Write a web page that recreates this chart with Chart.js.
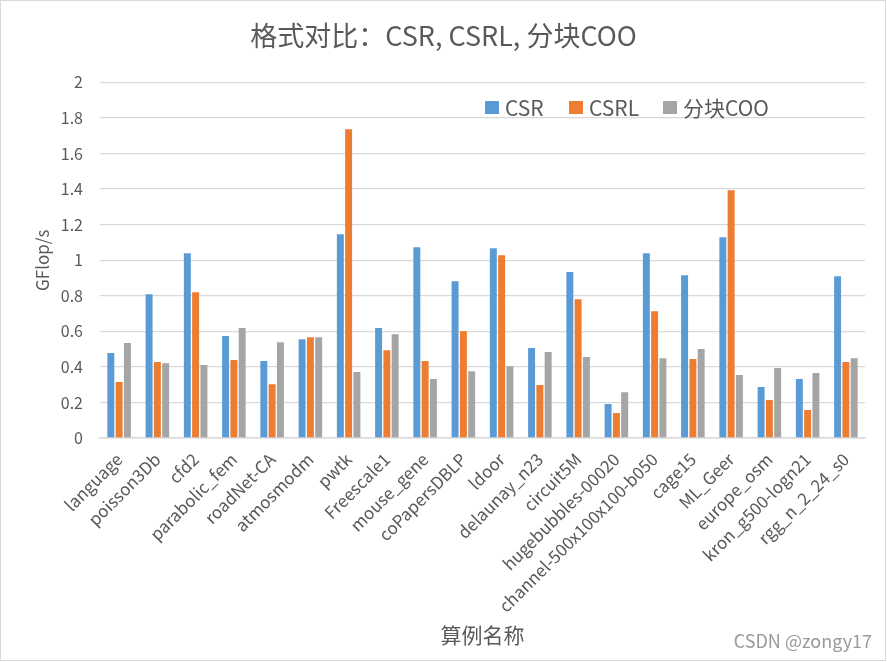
<!DOCTYPE html>
<html>
<head>
<meta charset="utf-8">
<script src="https://cdn.jsdelivr.net/npm/chart.js@4/dist/chart.umd.min.js"></script>
<style>
  body { margin: 0; background: #fff; }
  #wrap { position: relative; width: 887px; height: 662px; }
  #frame { position: absolute; left: 0; top: 0; width: 884px; height: 659px; border: 1px solid #d9d9d9; pointer-events: none; }
  #mark { position: absolute; right: 15px; top: 627px; font: 18px "Noto Sans CJK SC", sans-serif; color: #9a9a9a; }
</style>
</head>
<body>
<div id="wrap">
  <canvas id="myChart" width="887" height="662"></canvas>
  <div id="frame"></div>
  <div id="mark">CSDN @zongy17</div>
</div>
<script>
var categories = ['language', 'poisson3Db', 'cfd2', 'parabolic_fem', 'roadNet-CA', 'atmosmodm', 'pwtk', 'Freescale1', 'mouse_gene', 'coPapersDBLP', 'ldoor', 'delaunay_n23', 'circuit5M', 'hugebubbles-00020', 'channel-500x100x100-b050', 'cage15', 'ML_Geer', 'europe_osm', 'kron_g500-logn21', 'rgg_n_2_24_s0'];
var csr  = [0.478, 0.809, 1.039, 0.573, 0.433, 0.556, 1.146, 0.618, 1.073, 0.882, 1.067, 0.506, 0.933, 0.191, 1.039, 0.916, 1.129, 0.287, 0.332, 0.910];
var csrl = [0.315, 0.427, 0.820, 0.438, 0.303, 0.567, 1.736, 0.494, 0.433, 0.601, 1.028, 0.298, 0.781, 0.140, 0.713, 0.444, 1.393, 0.214, 0.157, 0.427];
var coo  = [0.534, 0.421, 0.410, 0.618, 0.539, 0.567, 0.371, 0.584, 0.332, 0.376, 0.404, 0.483, 0.455, 0.258, 0.449, 0.500, 0.354, 0.393, 0.365, 0.449];

var FONT = '"Noto Sans CJK SC", "Noto Sans", sans-serif';
var GREY = '#595959';

// legend drawn inside the plot area, like the Excel original
var insideLegend = {
  id: 'insideLegend',
  afterDraw: function(chart) {
    var c = chart.ctx;
    var xs = [485, 569, 663];
    c.save();
    c.font = '21px ' + FONT;
    c.textBaseline = 'middle';
    chart.data.datasets.forEach(function(ds, i) {
      c.fillStyle = ds.backgroundColor;
      c.fillRect(xs[i], 101, 14, 13);
      c.fillStyle = GREY;
      c.fillText(ds.label, xs[i] + 20, 108);
    });
    c.restore();
  }
};

var ctx = document.getElementById('myChart').getContext('2d');
var myChart = new Chart(ctx, {
    type: 'bar',
    data: {
        labels: categories,
        datasets: [
            { label: 'CSR', data: csr, backgroundColor: '#5b9bd5' },
            { label: 'CSRL', data: csrl, backgroundColor: '#ed7d31' },
            { label: '分块COO', data: coo, backgroundColor: '#a5a5a5' }
        ]
    },
    options: {
      responsive: false,
      animation: false,
      layout: { padding: { left: 22, right: 22, top: 0, bottom: 0 } },
      datasets: { bar: { categoryPercentage: 0.65, barPercentage: 0.84 } },
      plugins: {
        legend: { display: false },
        tooltip: { enabled: false },
        title: {
          display: true,
          text: '格式对比：CSR, CSRL, 分块COO',
          color: GREY,
          font: { family: FONT, size: 27, weight: 'normal' },
          padding: { top: 20, bottom: 30 }
        }
      },
      scales: {
        x: {
          grid: { display: false },
          border: { color: '#d9d9d9', width: 1.5 },
          ticks: { color: GREY, font: { family: FONT, size: 17 }, minRotation: 45, maxRotation: 45, padding: 3, autoSkip: false },
          title: { display: true, text: '算例名称', color: GREY, font: { family: FONT, size: 21 }, padding: { top: 0, bottom: 14 } },
          afterFit: function(s) { s.height = 224; }
        },
        y: {
          min: 0,
          max: 2,
          ticks: {
            stepSize: 0.2, color: GREY, font: { family: FONT, size: 16 }, padding: 17,
            callback: function(v) { return String(Math.round(v * 10) / 10); }
          },
          grid: { color: '#d9d9d9', lineWidth: 1.3, drawTicks: false },
          border: { display: false },
          title: { display: true, text: 'GFlop/s', color: GREY, font: { family: FONT, size: 17 }, padding: { top: 10, bottom: 0 } },
          afterFit: function(s) { s.width = 78; }
        }
      }
    },
    plugins: [insideLegend]
  });
</script>
</body>
</html>
